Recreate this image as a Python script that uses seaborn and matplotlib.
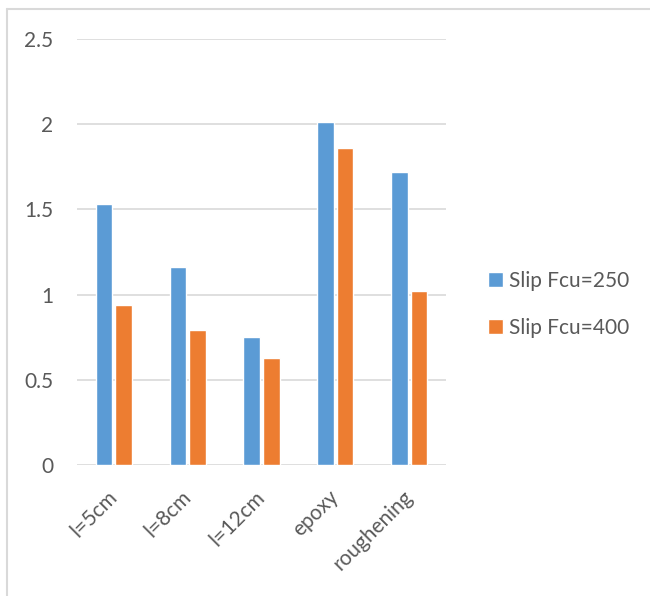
import pandas as pd
import seaborn as sns
import matplotlib.pyplot as plt
from matplotlib.lines import Line2D

# values
categories = ['l=5cm', 'l=8cm', 'l=12cm', 'epoxy', 'roughening']
slip_250 = [1.53, 1.16, 0.75, 2.01, 1.72]
slip_400 = [0.94, 0.79, 0.63, 1.86, 1.02]
series_names = ['Slip Fcu=250', 'Slip Fcu=400']
y_ticks = [0, 0.5, 1, 1.5, 2, 2.5]
y_tick_labels = ['0', '0.5', '1', '1.5', '2', '2.5']

df = pd.DataFrame({
    'case': categories * 2,
    'slip': slip_250 + slip_400,
    'series': [series_names[0]] * len(categories) + [series_names[1]] * len(categories),
})

sns.set_style('white')
plt.rcParams['font.family'] = ['Lato', 'DejaVu Sans']
text_color = '#595959'
grid_color = '#d9d9d9'

fig = plt.figure(figsize=(6.5, 5.96), dpi=100)
ax = fig.add_axes([0.1185, 0.2198, 0.5677, 0.7148])

sns.barplot(data=df, x='case', y='slip', hue='series', order=categories,
            hue_order=series_names, palette=['#5B9BD5', '#ED7D31'],
            width=0.53, gap=0.15, saturation=1, ax=ax, zorder=3)

ax.set_ylim(0, 2.5)
ax.set_xlim(-0.5, len(categories) - 0.5)
ax.set_yticks(y_ticks)
ax.set_yticklabels(y_tick_labels)
ax.yaxis.grid(True, color=grid_color, linewidth=1.2, zorder=0)
ax.set_axisbelow(True)
for s in ax.spines.values():
    s.set_visible(False)
ax.set_xlabel('')
ax.set_ylabel('')
ax.tick_params(axis='both', length=0, colors=text_color, labelsize=15)
ax.tick_params(axis='y', pad=17)
ax.tick_params(axis='x', pad=21)
plt.setp(ax.get_xticklabels(), rotation=45, ha='right', va='center',
         rotation_mode='anchor')

leg = ax.legend(loc='center left', bbox_to_anchor=(1.114, 0.377), frameon=False,
                fontsize=15, handlelength=0.7, handleheight=0.7,
                handletextpad=0.3, labelspacing=1.3, borderpad=0, borderaxespad=0)
for t in leg.get_texts():
    t.set_color(text_color)

# outer chart border, only left and top edges are visible in the reference
fig.add_artist(Line2D([7 / 650, 7 / 650], [0, 1 - 9 / 596], transform=fig.transFigure,
                      color=grid_color, linewidth=1.5))
fig.add_artist(Line2D([7 / 650, 1], [1 - 9 / 596, 1 - 9 / 596], transform=fig.transFigure,
                      color=grid_color, linewidth=1.5))

fig.savefig('out.png', dpi=100)
